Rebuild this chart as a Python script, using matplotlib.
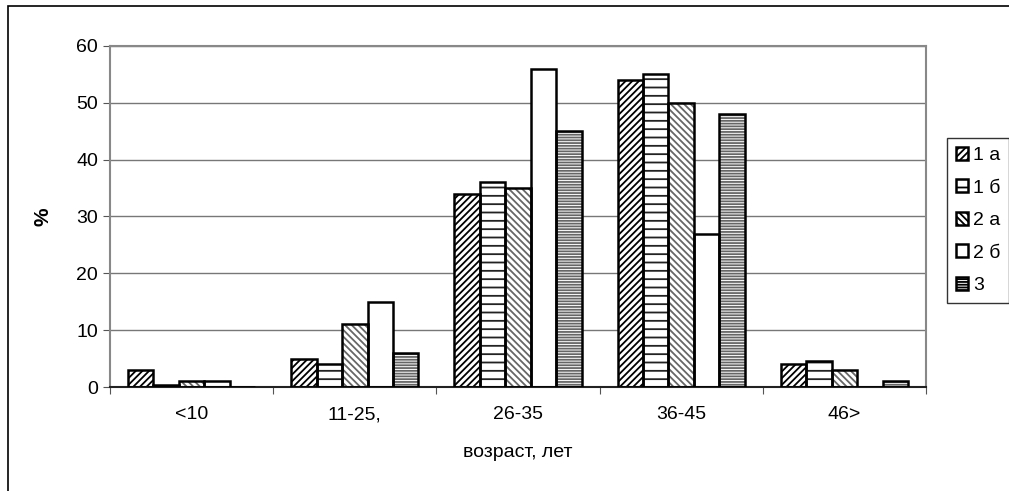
import matplotlib.pyplot as plt
from matplotlib.patches import Rectangle, Patch
import numpy as np

plt.rcParams['font.family'] = ['Liberation Sans', 'DejaVu Sans']
plt.rcParams['hatch.linewidth'] = 1.3

# данные
categories = ['<10', '11-25,', '26-35', '36-45', '46>']
series = ['1 а', '1 б', '2 а', '2 б', '3']
v_1a = [3, 5, 34, 54, 4]
v_1b = [0.3, 4, 36, 55, 4.5]
v_2a = [1, 11, 35, 50, 3]
v_2b = [1, 15, 56, 27, 0]
v_3 = [0, 6, 45, 48, 1]
values = [v_1a, v_1b, v_2a, v_2b, v_3]

# оформление серий: штриховка, цвет штриховки
hatches = ['/////', '--', '\\\\\\\\\\', '', '------']
hcolors = ['black', '#222222', '#666666', 'black', '#666666']

fig = plt.figure(figsize=(10.09, 4.91), dpi=100)
ax = fig.add_axes([110 / 1009, 1 - 387 / 491, 816 / 1009, 341 / 491])

x = np.arange(len(categories))
w = 0.156
for i, (name, vals) in enumerate(zip(series, values)):
    pos = x + (i - 2) * w
    # штриховка
    ax.bar(pos, vals, w, color='white', edgecolor=hcolors[i], hatch=hatches[i],
           linewidth=0, zorder=2)
    # контур
    ax.bar(pos, vals, w, color='none', edgecolor='black', linewidth=1.8, zorder=3)

ax.set_xlim(-0.5, 4.5)
ax.set_ylim(0, 60)
ax.set_yticks(range(0, 61, 10))
ax.yaxis.grid(True, color='#777777', linewidth=1.0, zorder=0)
ax.set_axisbelow(True)

ax.set_xticks(np.arange(-0.5, 5, 1))
ax.set_xticklabels([])
ax.set_xticks(x, minor=True)
ax.set_xticklabels(categories, minor=True)
ax.tick_params(axis='x', which='minor', length=0, pad=14, labelsize=14)
ax.tick_params(axis='both', which='major', direction='out', length=5,
               color='#555555', labelsize=14)

for s in ['left', 'right', 'top']:
    ax.spines[s].set_color('#888888')
    ax.spines[s].set_linewidth(1.5)
ax.spines['bottom'].set_color('#222222')
ax.spines['bottom'].set_linewidth(1.5)

ax.set_ylabel('%', fontsize=15, fontweight='bold')
ax.yaxis.set_label_coords(-58 / 816, 0.5)
ax.set_xlabel('возраст, лет', fontsize=14)
ax.xaxis.set_label_coords(0.5, -57 / 341)

# легенда
handles = [Patch(facecolor='white', edgecolor='black', hatch=hatches[i], linewidth=1.8)
           for i in range(len(series))]
fig.legend(handles, series, loc='upper left', bbox_to_anchor=(947 / 1009, 1 - 138 / 491),
           frameon=True, fancybox=False, edgecolor='black', fontsize=14,
           handlelength=0.65, handleheight=0.65, handletextpad=0.25,
           labelspacing=0.78, borderpad=0.45, borderaxespad=0)

# рамка диаграммы
fig.patches.append(Rectangle((8 / 1009, -0.1), 1.2, 1.1 - 6 / 491, fill=False,
                             edgecolor='black', linewidth=1.2,
                             transform=fig.transFigure, figure=fig))

fig.savefig('out.png', dpi=100)
